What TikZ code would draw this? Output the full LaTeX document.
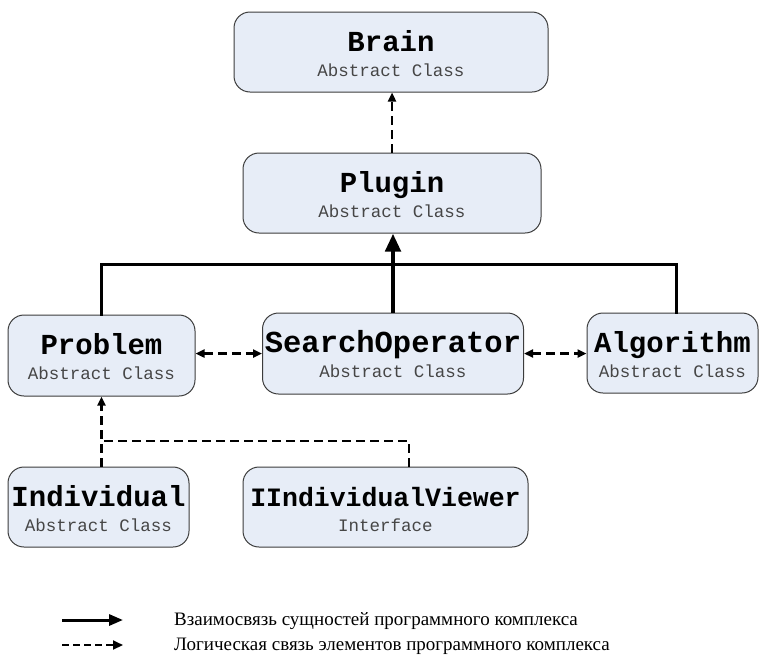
\documentclass[tikz,border=0pt]{standalone}
\usepackage{fontspec}
\setmainfont{Liberation Serif}
\setmonofont{Liberation Mono}
\usetikzlibrary{arrows.meta,calc}
\definecolor{boxfill}{RGB}{231,237,247}
\definecolor{boxdraw}{RGB}{60,60,60}
\definecolor{subgray}{RGB}{70,70,70}
\newcommand{\ttl}[2][29]{{\rule{0pt}{24pt}\ttfamily\bfseries\fontsize{#1}{27}\selectfont #2}}
\newcommand{\sub}[1]{{\ttfamily\fontsize{17.5}{27}\selectfont\color{subgray}#1}}
\tikzset{
  umlbox/.style={draw=boxdraw, line width=1pt, fill=boxfill, rounded corners=16pt,
     align=center, inner sep=0pt, font=\fontsize{17.5}{27}\selectfont},
  solidline/.style={line width=3pt, line cap=rect},
  thickarrow/.style={line width=4.5pt, -{Triangle[length=18pt,width=15pt]}},
  dasharr/.style={line width=2.5pt, dash pattern=on 9pt off 5pt, -{Triangle[length=9pt,width=8pt]}},
  dashboth/.style={line width=2.5pt, dash pattern=on 9pt off 5pt, {Triangle[length=9pt,width=8pt]}-{Triangle[length=9pt,width=8pt]}},
  dashline/.style={line width=2.5pt, dash pattern=on 9pt off 5pt},
  legtext/.style={anchor=west, inner sep=0pt, font=\fontsize{19}{22}\selectfont}
}
\begin{document}
\begin{tikzpicture}[x=1pt,y=-1pt]
\useasboundingbox (0,0) rectangle (759,659);
\node[umlbox, minimum width=314pt, minimum height=80pt] (Brain) at (391,52) {\ttl{Brain}\\[-2pt]\sub{Abstract Class}};
\node[umlbox, minimum width=298pt, minimum height=80pt] (Plugin) at (392,193) {\ttl{Plugin}\\[-2pt]\sub{Abstract Class}};
\node[umlbox, minimum width=187pt, minimum height=81pt] (Problem) at (101.5,355.5) {\ttl{Problem}\\[-2pt]\sub{Abstract Class}};
\node[umlbox, minimum width=261pt, minimum height=81pt] (SearchOperator) at (393,353.5) {\ttl[30.5]{SearchOperator}\\[-2pt]\sub{Abstract Class}};
\node[umlbox, minimum width=171pt, minimum height=80pt] (Algorithm) at (672.5,353) {\ttl{Algorithm}\\[-2pt]\sub{Abstract Class}};
\node[umlbox, minimum width=181pt, minimum height=80pt] (Individual) at (98.5,507) {\ttl{Individual}\\[-2pt]\sub{Abstract Class}};
\node[umlbox, minimum width=285pt, minimum height=80pt] (Viewer) at (385.5,507) {\ttl[26.5]{IIndividualViewer}\\[-2pt]\sub{Interface}};

\coordinate (jl) at (101,264);
\coordinate (jr) at (676,264);
\coordinate (vt) at (409,441);

\draw[dasharr] (Plugin.north) -- (Plugin.north |- Brain.south);
\draw[solidline] (Problem.north -| jl) -- (jl) -- (jr) -- (Algorithm.north -| jr);
\draw[thickarrow] (SearchOperator.north) -- (SearchOperator.north |- Plugin.south);
\draw[dashboth] (SearchOperator.west -| Problem.east) -- (SearchOperator.west);
\draw[dashboth] (SearchOperator.east) -- (SearchOperator.east -| Algorithm.west);
\draw[dasharr] (Individual.north -| Problem.south) -- (Problem.south);
\draw[dashline] (Viewer.north -| vt) -- (vt) -- (vt -| Problem.south);

\coordinate (l1s) at (62,620);
\coordinate (l1e) at (123,620);
\coordinate (l2s) at (62,645);
\coordinate (l2e) at (123,645);
\draw[line width=3pt, -{Triangle[length=14pt,width=11pt]}] (l1s) -- (l1e);
\draw[line width=2pt, dash pattern=on 7pt off 4pt, -{Triangle[length=10pt,width=9pt]}] (l2s) -- (l2e);
\node[legtext] (leg1) at (174,621) {Взаимосвязь сущностей программного комплекса};
\node[legtext] (leg2) at (174,646) {Логическая связь элементов программного комплекса};
\end{tikzpicture}
\end{document}
